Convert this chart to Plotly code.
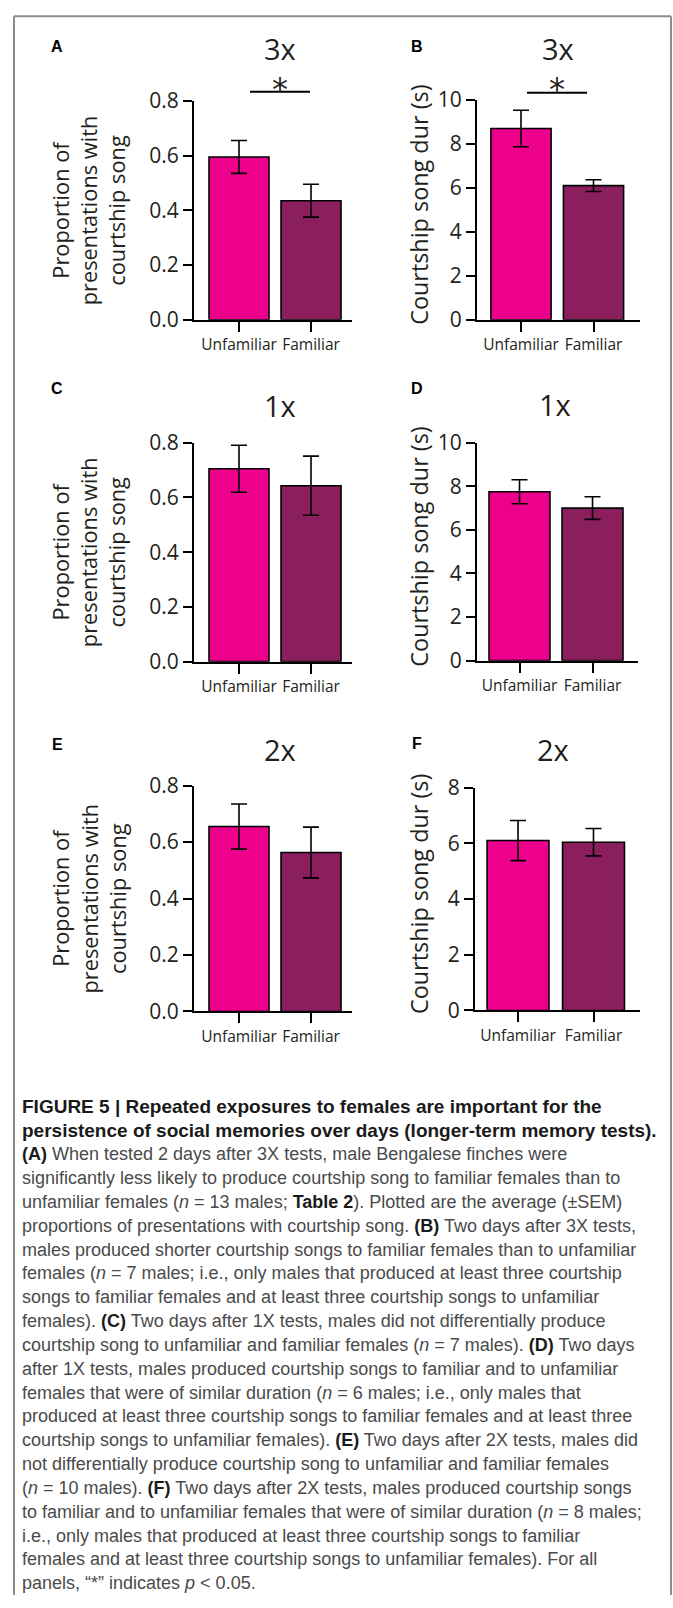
import plotly.graph_objects as go

# ---------------- data ----------------
categories = ["Unfamiliar", "Familiar"]
bar_colors = ["#EC008C", "#8B1F5E"]

prop_3x = [0.595, 0.435]
prop_3x_sem = [0.06, 0.06]
dur_3x = [8.7, 6.1]
dur_3x_sem = [0.83, 0.27]

prop_1x = [0.705, 0.643]
prop_1x_sem = [0.086, 0.108]
dur_1x = [7.75, 7.0]
dur_1x_sem = [0.55, 0.52]

prop_2x = [0.655, 0.563]
prop_2x_sem = [0.08, 0.09]
dur_2x = [6.1, 6.04]
dur_2x_sem = [0.72, 0.49]

panel_letters = ["A", "B", "C", "D", "E", "F"]
panel_titles = ["3x", "3x", "1x", "1x", "2x", "2x"]
prop_title = "Proportion of<br>presentations with<br>courtship song"
dur_title = "Courtship song dur (s)"
star_text = "*"

caption_lines = [
    "<b>FIGURE 5 | Repeated exposures to females are important for the</b>",
    "<b>persistence of social memories over days (longer-term memory tests).</b>",
    "<b>(A)</b> When tested 2 days after 3X tests, male Bengalese finches were",
    "significantly less likely to produce courtship song to familiar females than to",
    "unfamiliar females (<i>n</i> = 13 males; <b>Table 2</b>). Plotted are the average (±SEM)",
    "proportions of presentations with courtship song. <b>(B)</b> Two days after 3X tests,",
    "males produced shorter courtship songs to familiar females than to unfamiliar",
    "females (<i>n</i> = 7 males; i.e., only males that produced at least three courtship",
    "songs to familiar females and at least three courtship songs to unfamiliar",
    "females). <b>(C)</b> Two days after 1X tests, males did not differentially produce",
    "courtship song to unfamiliar and familiar females (<i>n</i> = 7 males). <b>(D)</b> Two days",
    "after 1X tests, males produced courtship songs to familiar and to unfamiliar",
    "females that were of similar duration (<i>n</i> = 6 males; i.e., only males that",
    "produced at least three courtship songs to familiar females and at least three",
    "courtship songs to unfamiliar females). <b>(E)</b> Two days after 2X tests, males did",
    "not differentially produce courtship song to unfamiliar and familiar females",
    "(<i>n</i> = 10 males). <b>(F)</b> Two days after 2X tests, males produced courtship songs",
    "to familiar and to unfamiliar females that were of similar duration (<i>n</i> = 8 males;",
    "i.e., only males that produced at least three courtship songs to familiar",
    "females and at least three courtship songs to unfamiliar females). For all",
    "panels, “*” indicates <i>p</i> &lt; 0.05.",
]

# ---------------- layout helpers ----------------
W, H = 673, 1608
def Y(ref_y):
    # vertical placement (page pixels) for a target pixel row of the picture
    return (ref_y - 13.1) / 0.983
def px(x):
    return x / W
def py(y):
    return 1 - y / H
def pr(ref_y):
    return py(Y(ref_y))

CHART_FONT = "Open Sans, Noto Sans, sans-serif"
CAP_FONT = "Liberation Sans, Arial, sans-serif"
INK = "#231F20"

values = [prop_3x, dur_3x, prop_1x, dur_1x, prop_2x, dur_2x]
sems = [prop_3x_sem, dur_3x_sem, prop_1x_sem, dur_1x_sem, prop_2x_sem, dur_2x_sem]

panels = [
    dict(yt=99, yb=318, xl=194, xr=352, xrange=[-0.625, 1.569], bw=0.833, yrange=[0, 0.8], dtick=0.2, fmt=".1f"),
    dict(yt=98, yb=318, xl=477, xr=640, xrange=[-0.607, 1.641], bw=0.83, yrange=[0, 10], dtick=2, fmt="d"),
    dict(yt=441, yb=660, xl=194, xr=352, xrange=[-0.625, 1.569], bw=0.833, yrange=[0, 0.8], dtick=0.2, fmt=".1f"),
    dict(yt=441, yb=659, xl=477, xr=638, xrange=[-0.582, 1.623], bw=0.835, yrange=[0, 10], dtick=2, fmt="d"),
    dict(yt=784, yb=1010, xl=194, xr=352, xrange=[-0.625, 1.569], bw=0.833, yrange=[0, 0.8], dtick=0.2, fmt=".1f"),
    dict(yt=786, yb=1009, xl=475, xr=640, xrange=[-0.570, 1.616], bw=0.82, yrange=[0, 8], dtick=2, fmt="d"),
]

fig = go.Figure()
layout = dict(
    width=W, height=H, autosize=False,
    margin=dict(l=0, r=0, t=0, b=0),
    paper_bgcolor="white", plot_bgcolor="white",
    showlegend=False,
    font=dict(family=CHART_FONT, color=INK),
)

for i, p in enumerate(panels):
    n = "" if i == 0 else str(i + 1)
    fig.add_trace(go.Bar(
        x=categories, y=values[i],
        width=[p["bw"], p["bw"]],
        marker=dict(color=bar_colors, line=dict(color="black", width=1.6)),
        error_y=dict(type="data", array=sems[i], color="black", thickness=1.6, width=8),
        xaxis="x" + n, yaxis="y" + n,
        hoverinfo="skip",
    ))
    layout["xaxis" + n] = dict(
        domain=[px(p["xl"]), px(p["xr"])], anchor="y" + n,
        type="category", range=p["xrange"],
        showline=True, linecolor="black", linewidth=2,
        ticks="outside", ticklen=10, tickwidth=2, tickcolor="black",
        tickangle=0,
        tickfont=dict(size=15.5, family=CHART_FONT, color=INK),
        showgrid=False, zeroline=False, fixedrange=True,
    )
    layout["yaxis" + n] = dict(
        domain=[pr(p["yb"]), pr(p["yt"])], anchor="x" + n,
        range=p["yrange"], dtick=p["dtick"], tick0=0, tickformat=p["fmt"],
        showline=True, linecolor="black", linewidth=2,
        ticks="outside", ticklen=9, tickwidth=2, tickcolor="black",
        tickfont=dict(size=21, family=CHART_FONT, color=INK),
        showgrid=False, zeroline=False, fixedrange=True,
    )

fig.update_layout(**layout)

ann = []
letter_pos = [(57, 45), (417, 45), (57, 387), (417, 387), (57, 743), (417, 742)]
title_pos = [(280, 46), (558, 46), (280, 403), (555, 402), (280, 747), (553, 747)]
for i in range(6):
    lx, ly = letter_pos[i]
    ann.append(dict(x=px(lx), y=pr(ly), xref="paper", yref="paper", text="<b>" + panel_letters[i] + "</b>",
                    showarrow=False, font=dict(size=16, family="Liberation Sans, Arial", color="black"),
                    xanchor="center", yanchor="middle"))
    tx, ty = title_pos[i]
    ann.append(dict(x=px(tx), y=py(Y(ty) + 1), xref="paper", yref="paper", text=panel_titles[i],
                    showarrow=False, font=dict(size=29, family=CHART_FONT, color=INK),
                    xanchor="center", yanchor="middle"))

# significance stars (box placed just below the title box)
for sx, title_y in [(280, 46), (557, 46)]:
    ann.append(dict(x=px(sx), y=py(Y(title_y) + 1 + 41), xref="paper", yref="paper", text=star_text,
                    showarrow=False, font=dict(size=32, family="DejaVu Sans", color=INK),
                    xanchor="center", yanchor="middle"))

for i, p in enumerate(panels):
    cy = (p["yt"] + p["yb"]) / 2
    if i % 2 == 0:
        ann.append(dict(x=px(89), y=pr(cy), xref="paper", yref="paper", text=prop_title,
                        textangle=-90, showarrow=False, align="center",
                        font=dict(size=21.8, family=CHART_FONT, color=INK),
                        xanchor="center", yanchor="middle"))
    else:
        ann.append(dict(x=px(419), y=pr(cy - 5), xref="paper", yref="paper", text=dur_title,
                        textangle=-90, showarrow=False,
                        font=dict(size=23.4, family=CHART_FONT, color=INK),
                        xanchor="center", yanchor="middle"))

cap_first, cap_last = 1111.0, 1596.0
cap_step = (cap_last - cap_first) / (len(caption_lines) - 1)
for k, line in enumerate(caption_lines):
    txt = line.replace("<b>", "<b><span style='color:#1a1a1a'>").replace("</b>", "</span></b>")
    size = 19 if k < 2 else 18
    ann.append(dict(x=px(20), y=py(cap_first + cap_step * k), xref="paper", yref="paper", text=txt,
                    showarrow=False, align="left", xanchor="left", yanchor="middle",
                    font=dict(size=size, family=CAP_FONT, color="#4a4a4a")))

frame = dict(color="#8c8c8c", width=2)
top = py(1.2)
shapes = [
    dict(type="line", xref="paper", yref="paper", x0=px(14), x1=px(671), y0=top, y1=top, line=frame),
    dict(type="line", xref="paper", yref="paper", x0=px(14), x1=px(14), y0=top, y1=0, line=frame),
    dict(type="line", xref="paper", yref="paper", x0=px(671), x1=px(671), y0=top, y1=0, line=frame),
    dict(type="line", xref="paper", yref="paper", x0=px(250), x1=px(310), y0=pr(90), y1=pr(90),
         line=dict(color="black", width=2)),
    dict(type="line", xref="paper", yref="paper", x0=px(527), x1=px(587), y0=pr(91), y1=pr(91),
         line=dict(color="black", width=2)),
]

fig.update_layout(annotations=ann, shapes=shapes)
fig.write_html(
    "out.html",
    config={"displayModeBar": False, "staticPlot": True},
    post_script=(
        "var d=document.getElementById('{plot_id}');"
        "d.style.position='fixed';d.style.left='0px';d.style.top='0px';"
        "document.documentElement.style.margin='0';document.body.style.margin='0';"
        "document.documentElement.style.overflow='hidden';document.body.style.overflow='hidden';"
    ),
)
